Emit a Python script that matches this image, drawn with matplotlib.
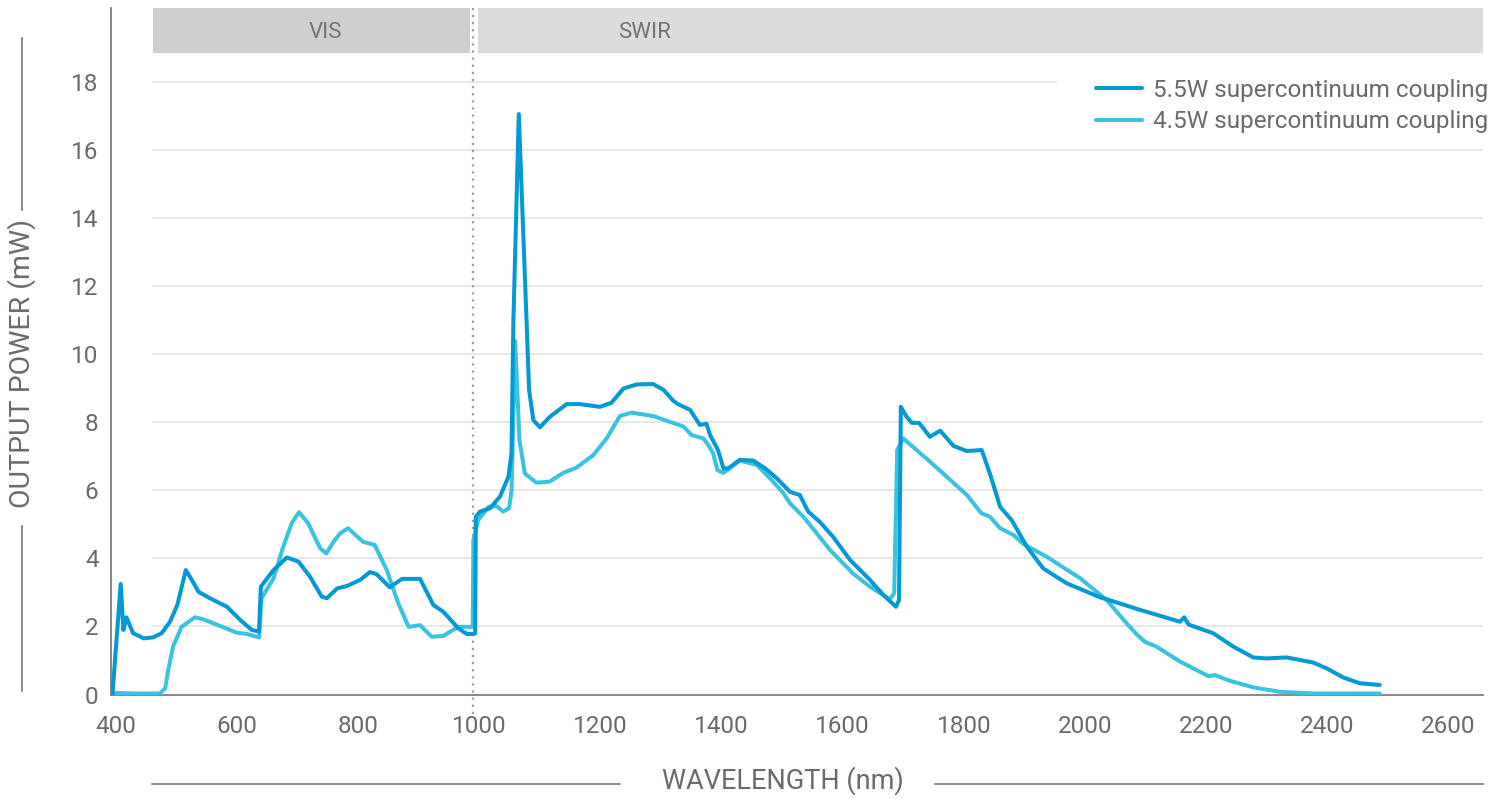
import matplotlib
matplotlib.use("Agg")
import matplotlib.pyplot as plt
from matplotlib.lines import Line2D
from matplotlib.patches import Rectangle

plt.rcParams['font.family'] = ['Roboto', 'DejaVu Sans']

# ---------------- data ----------------
wl_55 = [394, 407.5, 412, 417, 428, 438, 445, 461, 475, 489, 501, 515, 525, 536, 555, 583,
         605, 624, 636, 639, 660, 682, 701, 720, 739.5, 748, 765, 781, 803, 819, 830, 852,
         872, 902, 924, 940, 965, 979, 991, 993, 994, 1001, 1017.5, 1034, 1048, 1053, 1056,
         1065, 1078, 1082, 1089, 1100, 1116.5, 1144, 1166, 1199, 1218, 1238, 1260, 1287,
         1304, 1320, 1328, 1348, 1364, 1375, 1381, 1394, 1403, 1411, 1430, 1452, 1472, 1491,
         1513, 1529, 1543, 1562, 1584, 1612, 1645, 1667, 1688, 1693, 1696, 1705.5, 1714,
         1726, 1744, 1761, 1783, 1805, 1829.5, 1843, 1860, 1879, 1904, 1931, 1970, 2025,
         2091, 2157, 2164, 2171, 2212, 2245, 2278, 2300, 2333, 2377, 2399, 2427, 2454, 2487]
pw_55 = [0.03, 3.25, 1.9, 2.27, 1.8, 1.72, 1.65, 1.68, 1.8, 2.14, 2.63, 3.66, 3.37, 3.02, 2.83,
         2.58, 2.19, 1.9, 1.85, 3.17, 3.66, 4.03, 3.91, 3.47, 2.88, 2.83, 3.12, 3.19, 3.37,
         3.6, 3.54, 3.15, 3.4, 3.4, 2.63, 2.44, 1.95, 1.78, 1.78, 1.8, 5.23, 5.38, 5.48,
         5.82, 6.41, 7.09, 10.9, 17.07, 10.9, 8.96, 8.07, 7.86, 8.17, 8.54, 8.54, 8.46,
         8.58, 9.0, 9.12, 9.13, 8.96, 8.64, 8.54, 8.37, 7.93, 7.96, 7.63, 7.19, 6.65, 6.65,
         6.9, 6.88, 6.65, 6.36, 5.96, 5.87, 5.38, 5.08, 4.64, 3.96, 3.37, 2.93, 2.58, 2.78,
         8.46, 8.17, 7.99, 7.99, 7.58, 7.76, 7.31, 7.16, 7.19, 6.5, 5.52, 5.13, 4.35, 3.71,
         3.27, 2.86, 2.49, 2.14, 2.27, 2.06, 1.8, 1.41, 1.09, 1.06, 1.09, 0.94, 0.77, 0.5,
         0.33, 0.28]

wl_45 = [394, 428, 472, 481, 486, 494, 508, 530, 544, 571, 599, 616, 636, 640, 660, 676, 690,
         702, 717, 737, 747, 759, 770, 783, 808, 827, 847, 866, 883, 902, 921, 940, 965, 984,
         989, 990, 998, 1015, 1028.5, 1039, 1049, 1053, 1059, 1066, 1075, 1094, 1116,
         1138.5, 1160, 1188, 1210, 1232, 1251, 1287, 1337, 1350.5, 1370, 1378, 1386, 1393,
         1403, 1430, 1458, 1480, 1502, 1513, 1535, 1579, 1617, 1645, 1678, 1685, 1690, 1700,
         1744, 1805, 1829, 1843, 1860, 1882, 1898, 1937, 1992, 2036, 2069, 2085, 2099, 2118,
         2157, 2204, 2215, 2240, 2278, 2322, 2377, 2487]
pw_45 = [0.05, 0.03, 0.03, 0.18, 0.72, 1.41, 1.99, 2.27, 2.21, 2.02, 1.82, 1.78, 1.68, 2.83,
         3.42, 4.35, 5.04, 5.36, 5.04, 4.3, 4.15, 4.49, 4.74, 4.89, 4.49, 4.4, 3.66, 2.68,
         1.99, 2.04, 1.7, 1.72, 1.99, 1.99, 2.0, 4.54, 5.13, 5.52, 5.54, 5.38, 5.48, 6.01,
         10.4, 7.49, 6.5, 6.23, 6.26, 6.52, 6.67, 7.04, 7.53, 8.19, 8.29, 8.19, 7.88, 7.63,
         7.53, 7.34, 7.09, 6.6, 6.52, 6.88, 6.75, 6.36, 5.92, 5.62, 5.23, 4.25, 3.56, 3.17,
         2.8, 2.98, 7.19, 7.53, 6.85, 5.87, 5.33, 5.23, 4.89, 4.69, 4.43, 4.05, 3.42, 2.78,
         2.09, 1.78, 1.55, 1.41, 0.97, 0.54, 0.57, 0.4, 0.21, 0.08, 0.03, 0.03]

series_labels = ['5.5W supercontinuum coupling', '4.5W supercontinuum coupling']
x_ticks = [400, 600, 800, 1000, 1200, 1400, 1600, 1800, 2000, 2200, 2400, 2600]
y_ticks = [0, 2, 4, 6, 8, 10, 12, 14, 16, 18]
band_labels = ['VIS', 'SWIR']

# ---------------- style ----------------
C_DARK = '#0399d4'
C_LIGHT = '#3ac3de'
TXT = '#6f6869'
GRID = '#e3e3e3'
FS = 17.5

W, H = 1505, 799
fig = plt.figure(figsize=(W / 100, H / 100), dpi=100)

ax_l, ax_r, ax_b, ax_t = 111, 1483, 694.5, 8
ax = fig.add_axes([ax_l / W, 1 - ax_b / H, (ax_r - ax_l) / W, (ax_b - ax_t) / H])
ax.set_xlim(391.5, 2657.5)
ax.set_ylim(0, 20.19)

# grid lines (start right of the axis; top one stops before the legend)
gx0 = (153 - ax_l) / (ax_r - ax_l)
for v in y_ticks[1:]:
    xmax = (1056 - ax_l) / (ax_r - ax_l) if v == 18 else 1.0
    ax.axhline(v, xmin=gx0, xmax=xmax, color=GRID, lw=1.2, zorder=0)

# region bands
band_y0 = (ax_b - 53) / (ax_b - ax_t)
vis_x1 = (470 - ax_l) / (ax_r - ax_l)
swir_x0 = (478 - ax_l) / (ax_r - ax_l)
ax.add_patch(Rectangle((gx0, band_y0), vis_x1 - gx0, 1 - band_y0, transform=ax.transAxes,
                       facecolor='#cdcecf', edgecolor='none', zorder=1, clip_on=False))
ax.add_patch(Rectangle((swir_x0, band_y0), 1 - swir_x0, 1 - band_y0, transform=ax.transAxes,
                       facecolor='#dcdcdd', edgecolor='none', zorder=1, clip_on=False))
ax.text((325 - ax_l) / (ax_r - ax_l), (ax_b - 32) / (ax_b - ax_t), band_labels[0],
        transform=ax.transAxes, ha='center', va='center', fontsize=16, color='#787173')
ax.text((645 - ax_l) / (ax_r - ax_l), (ax_b - 32) / (ax_b - ax_t), band_labels[1],
        transform=ax.transAxes, ha='center', va='center', fontsize=16, color='#787173')

# dotted divider
ax.axvline(989.4, ymin=-0.028, ymax=1.0, color='#9c9c9c', lw=1.6, ls=(0, (1, 2.2)),
           clip_on=False, zorder=2)

# curves
l2, = ax.plot(wl_45, pw_45, color=C_LIGHT, lw=2.9, solid_joinstyle='round',
              solid_capstyle='round', zorder=3, label=series_labels[1])
l1, = ax.plot(wl_55, pw_55, color=C_DARK, lw=2.9, solid_joinstyle='round',
              solid_capstyle='round', zorder=4, label=series_labels[0])

# axes styling
for s in ['top', 'right']:
    ax.spines[s].set_visible(False)
for s in ['left', 'bottom']:
    ax.spines[s].set_color('#837c7e')
    ax.spines[s].set_linewidth(1.3)
ax.set_xticks(x_ticks)
ax.set_yticks(y_ticks)
ax.tick_params(axis='both', length=0, labelsize=FS, labelcolor=TXT)
ax.tick_params(axis='x', pad=15)
ax.tick_params(axis='y', pad=9)

# legend
leg = fig.legend(handles=[l1, l2], labels=series_labels, loc='upper right',
                 bbox_to_anchor=(1488 / W, 1 - 79 / H), frameon=False, fontsize=FS,
                 handlelength=1.9, handletextpad=0.45, labelspacing=0.33,
                 borderpad=0, borderaxespad=0)
for t in leg.get_texts():
    t.set_color(TXT)

# axis titles with decorative rules
fig.text(22 / W, 1 - 363 / H, 'OUTPUT POWER (mW)', rotation=90, ha='center', va='center',
         fontsize=20.5, color=TXT)
fig.text(783 / W, 1 - 781 / H, 'WAVELENGTH (nm)', ha='center', va='center',
         fontsize=19.5, color=TXT)
rule = dict(color='#7b7476', lw=1.2, transform=fig.transFigure)
fig.add_artist(Line2D([22 / W, 22 / W], [1 - 38 / H, 1 - 210 / H], **rule))
fig.add_artist(Line2D([22 / W, 22 / W], [1 - 526 / H, 1 - 691 / H], **rule))
fig.add_artist(Line2D([152 / W, 620 / W], [1 - 784 / H, 1 - 784 / H], **rule))
fig.add_artist(Line2D([935 / W, 1483 / W], [1 - 784 / H, 1 - 784 / H], **rule))

fig.savefig('out.png', dpi=100)
